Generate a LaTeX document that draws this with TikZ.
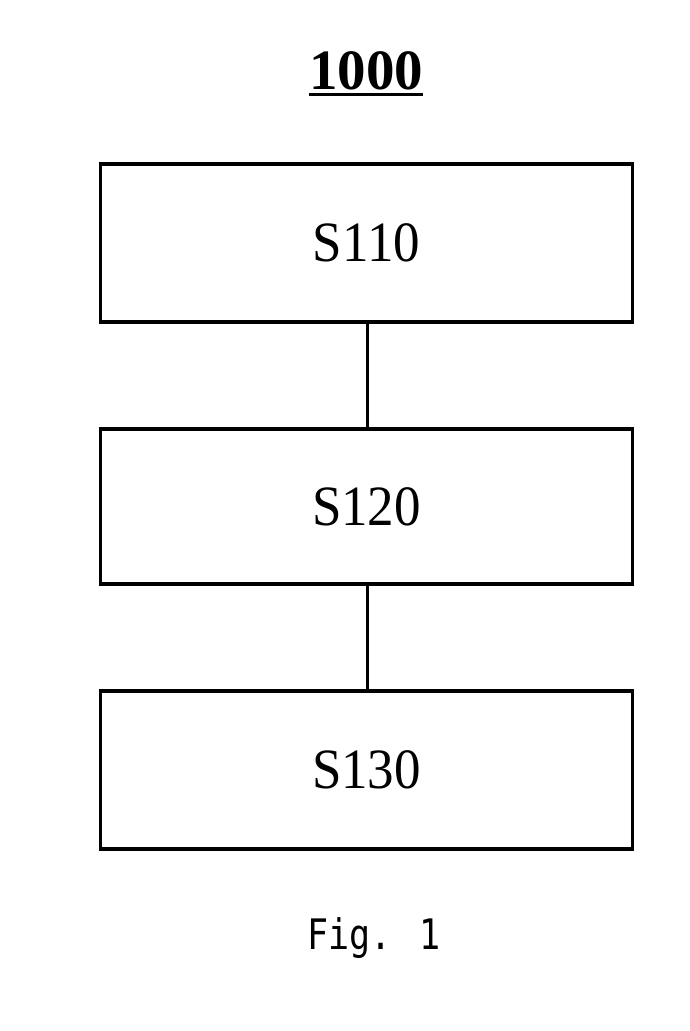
\documentclass[tikz,border=0pt]{standalone}
\usepackage{fontspec}
\setmainfont{Liberation Serif}
\newfontfamily\figmono{DejaVu Sans Mono}
\begin{document}
\begin{tikzpicture}[x=1pt,y=-1pt,
  stepbox/.style={draw,line width=3.2pt,minimum width=532pt,inner sep=0pt,font=\fontsize{57}{60}\selectfont},
  conn/.style={line width=3pt}]
\useasboundingbox (0,0) rectangle (689,1031);
\node[font=\fontsize{57}{60}\selectfont\bfseries,inner sep=0pt] (title) at (366,71) {1000};
\draw[line width=3pt] (title.south west) ++(0,4) coordinate (ul1) -- (title.south east |- ul1) coordinate (ul2);
\node[stepbox,minimum height=158pt] (s110) at (366.5,243) {\scalebox{0.93}[1]{S110}};
\node[stepbox,minimum height=155pt] (s120) at (366.5,506.5) {\scalebox{0.93}[1]{S120}};
\node[stepbox,minimum height=158pt] (s130) at (366.5,770) {\scalebox{0.93}[1]{S130}};
\draw[conn] (s110.south -| 367,0) -- (s120.north -| 367,0);
\draw[conn] (s120.south -| 367,0) -- (s130.north -| 367,0);
\node[font=\fontsize{35}{40}\figmono,inner sep=0pt] (fig) at (374,938) {\scalebox{1}[1.2]{Fig. 1}};
\end{tikzpicture}
\end{document}
